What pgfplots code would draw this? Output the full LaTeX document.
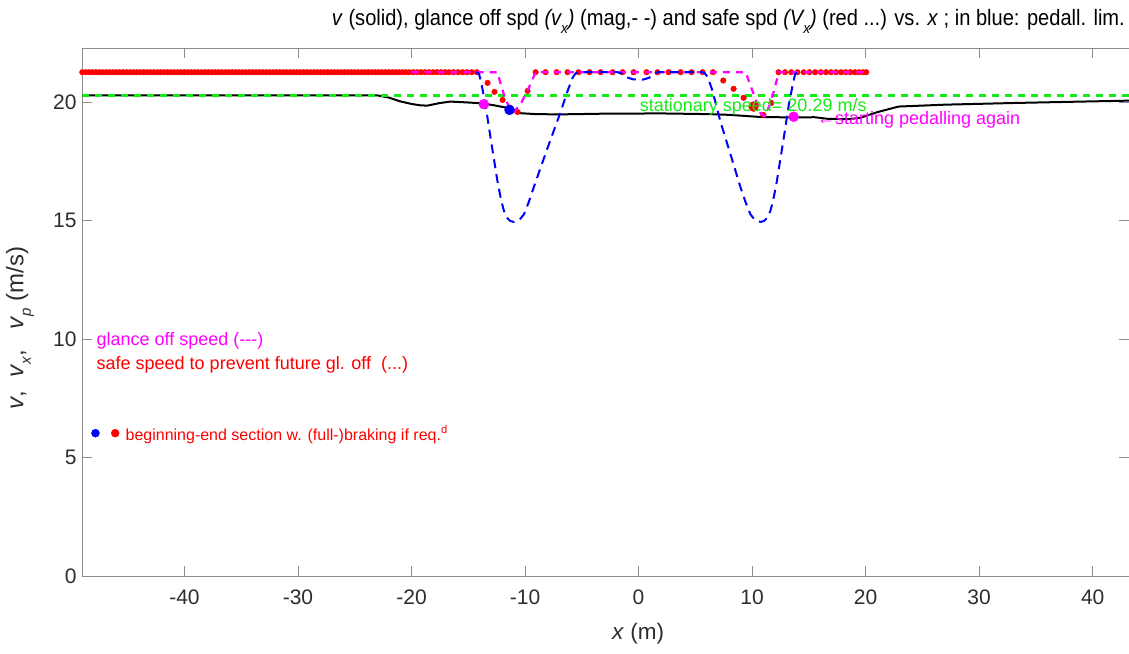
\documentclass[border=0pt]{standalone}
\usepackage{fontspec}
\setmainfont{Liberation Sans}
\newfontfamily\narrowfont[FakeStretch=0.9]{Liberation Sans}
\usepackage{pgfplots}
\pgfplotsset{compat=1.18}

\definecolor{axgray}{RGB}{140,140,140}
\definecolor{txtgray}{RGB}{45,45,45}
\definecolor{statgreen}{RGB}{20,235,20}
\definecolor{vmag}{RGB}{255,0,255}
\definecolor{vred}{RGB}{255,0,0}
\definecolor{vblue}{RGB}{0,0,255}

\newcommand{\fs}[1]{\fontsize{#1}{#1}\selectfont}
\newcommand{\lowsub}[1]{\raisebox{-0.32em}{\fontsize{15}{15}\selectfont #1}}

\begin{document}
\begin{tikzpicture}
\useasboundingbox (-82.3pt,-77pt) rectangle (1046.7pt,576pt);
\begin{axis}[
  at={(0pt,0pt)}, anchor=south west, scale only axis,
  width=1046.7pt, height=527.7pt,
  xmin=-49, xmax=43.2, ymin=0, ymax=22.28,
  axis line style={axgray, line width=1pt},
  tick style={axgray, line width=1pt},
  tick align=inside, major tick length=10pt,
  xtick={-40,-30,-20,-10,0,10,20,30,40},
  xticklabels={-40,-30,-20,-10,0,10,20,30,40},
  ytick={0,5,10,15,20}, yticklabels={0,5,10,15,20},
  ticklabel style={font=\fs{21}, text=txtgray},
  xticklabel style={yshift=-10pt},
  yticklabel style={xshift=-2.3pt},
  clip mode=individual,
]

% speed v
\addplot[draw=black, line width=2pt] coordinates {
 (-49,20.29) (-23,20.29) (-22,20.2) (-21,20.04) (-20,19.93) (-19.2,19.87)
 (-18.6,19.86) (-17.6,19.96) (-16.6,20.03) (-15.3,20.0) (-13.9,19.96)
 (-12.8,19.88) (-11.5,19.76) (-10.9,19.62) (-10.4,19.54) (-9,19.5)
 (-6.9,19.49) (-3,19.52) (2,19.53) (6.3,19.5) (8,19.47) (10.7,19.38)
 (13.7,19.36) (15.5,19.37) (16.7,19.3) (18.5,19.29) (19.5,19.34)
 (21,19.58) (22.9,19.82) (27,19.9) (33,19.97) (38,20.02) (43.2,20.07)
};

% stationary speed
\addplot[draw=statgreen, line width=2.2pt, dash pattern=on 7pt off 6pt] coordinates {
 (-49,20.29) (43.2,20.29)
};

% safe speed V_x
\addplot[only marks, mark=*, mark size=2.8pt, color=vred] coordinates {
 (-49.0,21.27) (-48.7,21.27) (-48.4,21.27) (-48.1,21.27) (-47.8,21.27)
 (-47.5,21.27) (-47.2,21.27) (-46.9,21.27) (-46.6,21.27) (-46.3,21.27)
 (-46.0,21.27) (-45.7,21.27) (-45.4,21.27) (-45.1,21.27) (-44.8,21.27)
 (-44.5,21.27) (-44.2,21.27) (-43.9,21.27) (-43.6,21.27) (-43.3,21.27)
 (-43.0,21.27) (-42.7,21.27) (-42.4,21.27) (-42.1,21.27) (-41.8,21.27)
 (-41.5,21.27) (-41.2,21.27) (-40.9,21.27) (-40.6,21.27) (-40.3,21.27)
 (-40.0,21.27) (-39.7,21.27) (-39.4,21.27) (-39.1,21.27) (-38.8,21.27)
 (-38.5,21.27) (-38.2,21.27) (-37.9,21.27) (-37.6,21.27) (-37.3,21.27)
 (-37.0,21.27) (-36.7,21.27) (-36.4,21.27) (-36.1,21.27) (-35.8,21.27)
 (-35.5,21.27) (-35.2,21.27) (-34.9,21.27) (-34.6,21.27) (-34.3,21.27)
 (-34.0,21.27) (-33.7,21.27) (-33.4,21.27) (-33.1,21.27) (-32.8,21.27)
 (-32.5,21.27) (-32.2,21.27) (-31.9,21.27) (-31.6,21.27) (-31.3,21.27)
 (-31.0,21.27) (-30.7,21.27) (-30.4,21.27) (-30.1,21.27) (-29.8,21.27)
 (-29.5,21.27) (-29.2,21.27) (-28.9,21.27) (-28.6,21.27) (-28.3,21.27)
 (-28.0,21.27) (-27.7,21.27) (-27.4,21.27) (-27.1,21.27) (-26.8,21.27)
 (-26.5,21.27) (-26.2,21.27) (-25.9,21.27) (-25.6,21.27) (-25.3,21.27)
 (-25.0,21.27) (-24.7,21.27) (-24.4,21.27) (-24.1,21.27) (-23.8,21.27)
 (-23.5,21.27) (-23.2,21.27) (-22.9,21.27) (-22.6,21.27) (-22.3,21.27)
 (-22.0,21.27) (-21.7,21.27) (-21.4,21.27) (-21.1,21.27) (-20.8,21.27)
 (-20.5,21.27) (-20.2,21.27) (-19.85,21.27) (-19.5,21.27) (-19.15,21.27)
 (-18.8,21.27) (-18.45,21.27) (-18.1,21.27) (-17.75,21.27) (-17.4,21.27)
 (-17.05,21.27) (-16.7,21.27) (-16.3,21.27) (-15.9,21.27) (-15.5,21.27)
 (-15.1,21.27) (-14.7,21.27) (-14.25,21.27)
 (-13.3,20.82) (-12.69,20.44) (-11.98,20.1) (-11.3,19.75) (-10.66,19.59)
 (-9.78,20.48)
 (-9.07,21.27) (-8.19,21.27) (-7.22,21.27) (-6.26,21.27) (-5.29,21.27)
 (-4.32,21.27) (-3.35,21.27) (-2.29,21.27) (-1.41,21.27) (-0.44,21.27)
 (0.70,21.27) (1.67,21.27) (2.64,21.27) (3.70,21.27) (4.67,21.27)
 (5.64,21.27) (6.55,21.27)
 (7.46,20.92) (8.37,20.57) (9.25,20.19) (10.99,19.47) (11.69,19.97)
 (12.33,21.27) (12.9,21.27) (13.45,21.27) (14.0,21.27) (14.55,21.27)
 (15.05,21.27) (15.55,21.27) (16.05,21.27) (16.5,21.27) (16.95,21.27)
 (17.4,21.27) (17.85,21.27) (18.25,21.27) (18.65,21.27) (19.05,21.27)
 (19.4,21.27) (19.75,21.27) (20.05,21.27)
};

% glance off speed v_x
\addplot[draw=vmag, line width=2.2pt, dash pattern=on 7pt off 6pt] coordinates {
 (-20,21.27) (-12.45,21.27) (-11.72,20.1) (-11.1,19.55) (-10.4,19.92)
 (-9.78,20.49) (-9.07,21.27) (9.43,21.27) (10.75,19.54) (11.1,19.42)
 (11.63,19.96) (12.36,21.27) (20,21.27)
};

% pedalling limit
\addplot[draw=vblue, line width=2pt, dash pattern=on 9pt off 6pt] coordinates {
 (-14.3,21.27) (-14.05,21.2) (-13.85,20.8) (-13.48,19.89) (-13.04,18.5)
 (-12.42,16.64) (-12.1,15.85) (-11.85,15.4) (-11.6,15.13) (-11.3,14.99)
 (-11.0,14.95) (-10.7,14.99) (-10.4,15.09) (-10.1,15.27) (-9.7,15.75)
 (-9.25,16.39) (-8.02,18.07) (-6.87,19.59) (-6.2,20.55) (-5.8,21.05)
 (-5.55,21.22) (-5.3,21.27)
 (-1.85,21.27) (-1.45,21.2) (-1.0,21.05) (-0.5,20.97) (0.4,20.96)
 (0.9,21.03) (1.3,21.17) (1.67,21.27)
 (5.6,21.27) (5.85,21.22) (6.1,21.05) (6.5,20.5) (7.22,19.17)
 (8.11,17.78) (8.99,16.39) (9.45,15.75) (9.85,15.27) (10.15,15.09)
 (10.45,14.99) (10.75,14.95) (11.05,14.99) (11.35,15.13) (11.6,15.4)
 (11.85,15.85) (12.17,16.64) (12.79,18.5) (13.23,19.89) (13.6,20.8)
 (13.8,21.2) (14.05,21.27)
};

% start and end of the braking sections
\addplot[only marks, mark=*, mark size=5pt, color=vmag] coordinates {(-13.63,19.92) (13.66,19.39)};
\addplot[only marks, mark=*, mark size=5pt, color=vblue] coordinates {(-11.37,19.68)};
\addplot[only marks, mark=*, mark size=5pt, color=vred] coordinates {(10.13,19.82)};

% key symbols
\addplot[only marks, mark=*, mark size=4pt, color=vblue] coordinates {(-47.84,6.03)};
\addplot[only marks, mark=*, mark size=4pt, color=vred] coordinates {(-46.1,6.03)};

% annotations
\node[anchor=base west, inner sep=0pt, text=vmag, font=\fs{18}] at (axis cs:-47.75,9.75) {glance off speed ({-}{-}{-})};
\node[anchor=base west, inner sep=0pt, text=vred, font=\fs{18}] at (axis cs:-47.75,8.73) {safe speed to prevent future gl. off\ \ (...)};
\node[anchor=base west, inner sep=0pt, text=vred, font=\fs{16}] at (axis cs:-45.2,5.74) {beginning-end section w. (full-)braking if req.\textsuperscript{d}};
\node[anchor=base west, inner sep=0pt, text=statgreen, font=\fs{18}] at (axis cs:0.1,19.6) {stationary speed= 20.29 m/s};
\node[anchor=base west, inner sep=0pt, text=vmag, font=\fs{18}] at (axis cs:15.7,19.05) {←starting pedalling again};

% title and axis labels
\node[anchor=base east, inner sep=0pt, text=black, font=\narrowfont\fs{22.3}] at ([yshift=22.3pt]rel axis cs:0.9962,1)
 {\textit{v} (solid), glance off spd \textit{(v\lowsub{x})} (mag,- -) and safe spd \textit{(V\lowsub{x})} (red ...) vs. \textit{x} ; in blue: pedall. lim.};
\node[anchor=base, inner sep=0pt, text=txtgray, font=\fs{22.5}] at ([yshift=-63pt]rel axis cs:0.531,0) {\textit{x} (m)};
\node[anchor=base, rotate=90, inner sep=0pt, text=txtgray, font=\fs{24}] at ([xshift=-59pt]rel axis cs:0,0.47)
 {\textit{v}, \ \textit{v}\lowsub{\textit{x}}, \ \ \textit{v}\lowsub{\textit{p}} (m/s)};
\end{axis}
\end{tikzpicture}
\end{document}
